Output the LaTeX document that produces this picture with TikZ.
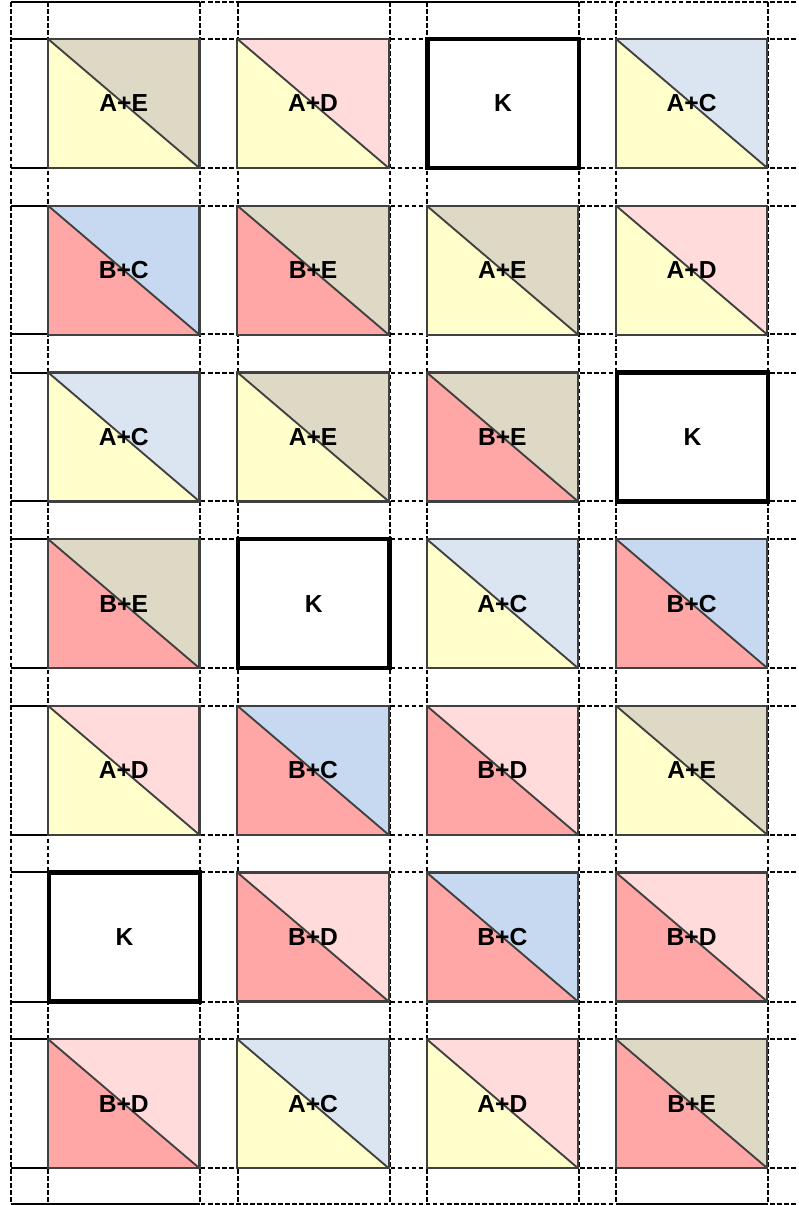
\documentclass[tikz,border=0pt]{standalone}
\usepackage{fontspec}
\setmainfont{Liberation Sans}
\usetikzlibrary{positioning}
\definecolor{softyellow}{RGB}{255,255,204}
\definecolor{softred}{RGB}{255,166,166}
\definecolor{softpink}{RGB}{255,219,219}
\definecolor{softtan}{RGB}{221,217,196}
\definecolor{softblue}{RGB}{219,229,241}
\definecolor{midblue}{RGB}{198,217,241}
\definecolor{edgegray}{RGB}{64,64,64}

\begin{document}
\begin{tikzpicture}[x=0.03cm,y=-0.03cm,
  every node/.style={font=\fontsize{21}{23}\selectfont\bfseries},
  gridline/.style={black,line width=2pt,dash pattern=on 4pt off 2pt},
  solidline/.style={black,line width=2pt},
  parcel/.style 2 args={draw=edgegray,line width=1.9pt,minimum width=4.54cm,minimum height=3.87cm,inner sep=0pt,
    path picture={
      \fill[fill=#1] (path picture bounding box.north west) -- (path picture bounding box.south west)
        -- (path picture bounding box.south east) -- cycle;
      \fill[fill=#2] (path picture bounding box.north west) -- (path picture bounding box.north east)
        -- (path picture bounding box.south east) -- cycle;
      \draw[edgegray,line width=1.6pt] (path picture bounding box.north west) -- (path picture bounding box.south east);
    }},
  kparcel/.style={draw=black,fill=white,line width=3.6pt,minimum width=4.54cm,minimum height=3.87cm,inner sep=0pt}]
\useasboundingbox (0,0) rectangle (798,1205);
% field grid
\foreach \x in {11,48,200,238,390,427,579,616,768}
  \draw[gridline] (\x,2) -- (\x,1204);
\foreach \y in {2,39,168,206,334,373,501,539,668,706,835,872,1002,1039,1168,1204} {
  \draw[gridline] (11,\y) -- (798,\y);
  \draw[solidline] (11,\y) -- (48,\y);
}
\draw[solidline] (11,2) -- (200,2);
\draw[solidline] (238,2) -- (579,2);
\draw[solidline] (11,1204) -- (200,1204);
\draw[solidline] (616,1204) -- (768,1204);
% plots
\foreach \r/\c/\lo/\up/\lab in {
  1/1/softyellow/softtan/A+E, 1/2/softyellow/softpink/A+D, 1/4/softyellow/softblue/A+C,
  2/1/softred/midblue/B+C, 2/2/softred/softtan/B+E, 2/3/softyellow/softtan/A+E, 2/4/softyellow/softpink/A+D,
  3/1/softyellow/softblue/A+C, 3/2/softyellow/softtan/A+E, 3/3/softred/softtan/B+E,
  4/1/softred/softtan/B+E, 4/3/softyellow/softblue/A+C, 4/4/softred/midblue/B+C,
  5/1/softyellow/softpink/A+D, 5/2/softred/midblue/B+C, 5/3/softred/softpink/B+D, 5/4/softyellow/softtan/A+E,
  6/2/softred/softpink/B+D, 6/3/softred/midblue/B+C, 6/4/softred/softpink/B+D,
  7/1/softred/softpink/B+D, 7/2/softyellow/softblue/A+C, 7/3/softyellow/softpink/A+D, 7/4/softred/softtan/B+E}
  \node[parcel={\lo}{\up}] (p\r\c) at ({123.75+189.3*(\c-1)},{103.5+166.7*(\r-1)}) {\raisebox{-2pt}{\lab}};
% control plots
\foreach \r/\c in {1/3,3/4,4/2,6/1}
  \node[kparcel] (k\r\c) at ({124.5+189.3*(\c-1)},{103.5+166.7*(\r-1)}) {\raisebox{-2pt}{K}};
\end{tikzpicture}
\end{document}
